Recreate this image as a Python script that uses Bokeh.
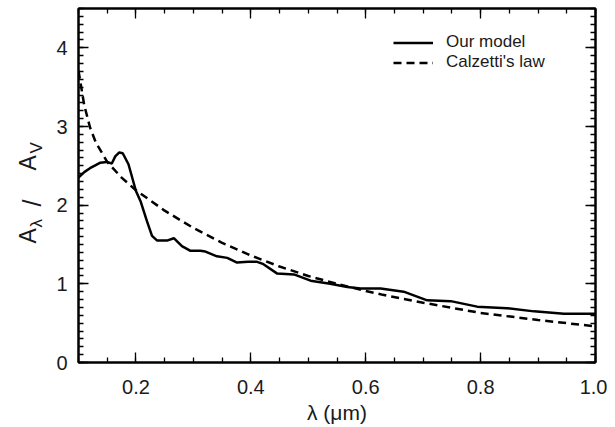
import math
from bokeh.plotting import figure
from bokeh.layouts import row
from bokeh.models import (Range1d, LinearAxis, FixedTicker, PrintfTickFormatter,
                          Legend, LegendItem, ColumnDataSource)
from bokeh.core.properties import value
from bokeh.embed import file_html
from bokeh.resources import INLINE

# ---- data ----
lam_model = [0.100, 0.110, 0.120, 0.130, 0.138, 0.149, 0.158, 0.164, 0.171, 0.177,
             0.187, 0.200, 0.208, 0.219, 0.228, 0.237, 0.254, 0.266, 0.280, 0.295,
             0.312, 0.321, 0.341, 0.359, 0.376, 0.395, 0.411, 0.422, 0.446, 0.475,
             0.504, 0.538, 0.568, 0.591, 0.626, 0.666, 0.707, 0.748, 0.794, 0.846,
             0.893, 0.945, 1.000]
a_model = [2.35, 2.42, 2.47, 2.51, 2.54, 2.55, 2.53, 2.62, 2.67, 2.66,
           2.52, 2.18, 2.05, 1.80, 1.61, 1.55, 1.55, 1.58, 1.48, 1.42,
           1.42, 1.41, 1.35, 1.33, 1.27, 1.28, 1.28, 1.25, 1.13, 1.12,
           1.04, 1.00, 0.96, 0.94, 0.94, 0.90, 0.79, 0.78, 0.71, 0.69,
           0.65, 0.62, 0.62]

lam_calz = [0.100, 0.110, 0.120, 0.130, 0.150, 0.175, 0.200, 0.250, 0.300, 0.350,
            0.400, 0.450, 0.500, 0.550, 0.600, 0.630, 0.700, 0.800, 0.900, 1.000]
a_calz = [3.71, 3.27, 2.99, 2.80, 2.55, 2.35, 2.19, 1.93, 1.71, 1.52,
          1.36, 1.22, 1.10, 1.00, 0.91, 0.86, 0.76, 0.63, 0.54, 0.46]

x_major = [0.2, 0.4, 0.6, 0.8, 1.0]
x_minor = [0.10, 0.15, 0.20, 0.25, 0.30, 0.35, 0.40, 0.45, 0.50, 0.55,
           0.60, 0.65, 0.70, 0.75, 0.80, 0.85, 0.90, 0.95, 1.00]
y_major = [0, 1, 2, 3, 4]
y_minor = [round(0.1 * i, 1) for i in range(46)]

series_labels = ["Our model", "Calzetti's law"]
ylabel_pieces = ["A", "λ", "/", "A", "V"]

FONT = "Liberation Sans"
INK = "#1a1a1a"
LABEL_W = 46
LABEL_H = 370

p = figure(frame_width=517, frame_height=354,
           x_range=Range1d(0.1, 1.0), y_range=Range1d(0, 4.5),
           output_backend="svg", toolbar_location=None,
           min_border_left=78 - LABEL_W, min_border_right=12,
           min_border_top=8, min_border_bottom=0)
p.xgrid.visible = False
p.ygrid.visible = False
p.outline_line_color = "black"
p.outline_line_width = 2
p.background_fill_color = "white"

xt = FixedTicker(ticks=x_major, minor_ticks=x_minor)
yt = FixedTicker(ticks=y_major, minor_ticks=y_minor)


def style(ax, show_labels, size="20px"):
    ax.axis_line_color = "black"
    ax.axis_line_width = 2
    ax.major_tick_in = 10
    ax.major_tick_out = 0
    ax.minor_tick_in = 5
    ax.minor_tick_out = 0
    ax.major_tick_line_width = 1.3
    ax.minor_tick_line_width = 1.3
    ax.major_tick_line_color = "black"
    ax.minor_tick_line_color = "black"
    if show_labels:
        ax.major_label_text_font = FONT
        ax.major_label_text_font_size = size
        ax.major_label_text_color = INK
    else:
        ax.major_label_text_font_size = "0px"
        ax.major_label_text_alpha = 0
        ax.major_label_standoff = 0
        ax.axis_label = None
        ax.axis_label_standoff = 0


xa = p.xaxis[0]
xa.ticker = xt
xa.formatter = PrintfTickFormatter(format="%.1f")
style(xa, True)
xa.major_label_standoff = 17
xa.axis_label = "λ (μm)"
xa.axis_label_text_font = FONT
xa.axis_label_text_font_size = "21px"
xa.axis_label_text_font_style = "normal"
xa.axis_label_text_color = INK
xa.axis_label_standoff = 4

ya = p.yaxis[0]
ya.ticker = yt
style(ya, True)
ya.major_label_standoff = 11
ya.axis_label = None

top = LinearAxis(ticker=xt)
style(top, False)
p.add_layout(top, "above")
right = LinearAxis(ticker=yt)
style(right, False)
p.add_layout(right, "right")

r1 = p.line(lam_model, a_model, line_color="black", line_width=2.5)
r2 = p.line(lam_calz, a_calz, line_color="black", line_width=2.5, line_dash="8 5")

legend = Legend(items=[LegendItem(label=series_labels[0], renderers=[r1]),
                       LegendItem(label=series_labels[1], renderers=[r2])],
                location=(315, 290), border_line_color=None,
                background_fill_alpha=0, padding=0, margin=0, spacing=0,
                glyph_width=40, glyph_height=19, label_height=19,
                label_standoff=13, label_text_font=FONT,
                label_text_font_size="17px", label_text_color=INK)
p.add_layout(legend)

# narrow strip on the left holding the rotated title  A_lambda / A_V
lab = figure(width=LABEL_W, height=LABEL_H, frame_width=LABEL_W, frame_height=LABEL_H,
             x_range=Range1d(0, LABEL_W), y_range=Range1d(0, LABEL_H),
             output_backend="svg", toolbar_location=None,
             min_border_left=0, min_border_right=0, min_border_top=0,
             min_border_bottom=0)
lab.axis.visible = False
lab.grid.visible = False
lab.outline_line_color = None
src = ColumnDataSource(dict(
    t=ylabel_pieces,
    x=[27, 36, 31, 27, 36],
    y=[135, 151, 172, 208, 225],
    fs=["23px", "17px", "25px", "23px", "17px"],
))
lab.text(x="x", y="y", text="t", source=src, angle=math.pi / 2,
         text_font=value(FONT), text_font_size="fs", text_align="left",
         text_baseline="alphabetic", text_color=INK)

layout = row(lab, p)
open("out.html", "w").write(file_html(layout, INLINE))
